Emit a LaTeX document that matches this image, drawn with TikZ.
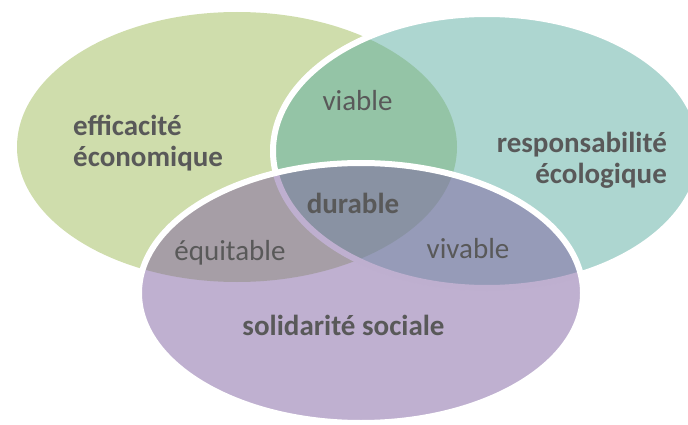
\documentclass[tikz,border=0pt]{standalone}
\usepackage{fontspec}
\setmainfont{Carlito}
\definecolor{ecogreen}{RGB}{207,221,172}
\definecolor{envteal}{RGB}{91,173,161}
\definecolor{socpurple}{RGB}{127,97,161}
\definecolor{labelgrey}{RGB}{89,89,89}
\begin{document}
\begin{tikzpicture}[x=1pt,y=-1pt]
    \tikzstyle{every node}+=[inner sep=0pt, text=labelgrey, font=\fontsize{29}{31}\selectfont]
    \tikzstyle{pillar}=[font=\fontsize{29}{31}\selectfont\bfseries]
    \tikzstyle{overlap}=[anchor=base]
    \useasboundingbox (0,0) rectangle (688,425);
    % the three circles
    \fill [ecogreen] (237,147) ellipse (220 and 135);
    \filldraw [fill=envteal, fill opacity=0.5, draw=white, line width=6pt] (487,151) ellipse (214 and 137);
    \filldraw [fill=socpurple, fill opacity=0.5, draw=white, line width=6pt] (361,293) ellipse (222 and 130);
    % labels
    \node [pillar, anchor=base west, align=left] (eco) at (73,166) {efficacité\\économique};
    \node [pillar, anchor=base east, align=right] (env) at (667,183) {responsabilité\\écologique};
    \node [pillar, overlap] (soc) at (343.5,335) {solidarité sociale};
    \node [overlap] (viable) at (357.5,111) {viable};
    \node [overlap] (equitable) at (230,260) {équitable};
    \node [overlap] (vivable) at (468,258) {vivable};
    \node [pillar, overlap] (durable) at (353,213) {durable};
\end{tikzpicture}
\end{document}
